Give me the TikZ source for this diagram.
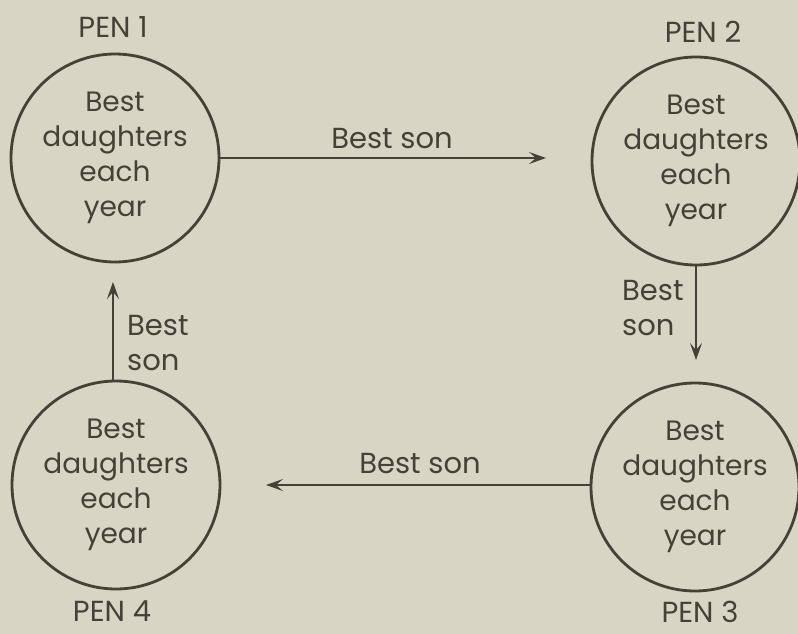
\documentclass[tikz,border=0pt]{standalone}
\usepackage{fontspec}
\setmainfont{Poppins}
\usetikzlibrary{arrows.meta}
\definecolor{paper}{RGB}{217,213,196}
\definecolor{ink}{RGB}{70,64,56}
\tikzset{
  pen/.style={circle, draw=ink, line width=2.8pt, minimum size=208pt, inner sep=0pt,
    align=center, text=ink, font=\fontsize{28}{35}\selectfont},
  penlabel/.style={text=ink, font=\fontsize{29}{34}\selectfont, inner sep=0pt, anchor=base},
  sonlabel/.style={text=ink, font=\fontsize{29}{35}\selectfont, inner sep=0pt},
  flow/.style={draw=ink, line width=2pt, -{Stealth[length=17pt,width=12pt,inset=7pt]}}
}
\begin{document}
\begin{tikzpicture}[x=1pt,y=-1pt]
  \fill[paper] (0,0) rectangle (798,634);
  \useasboundingbox (0,0) rectangle (798,634);

  % the four pens
  \node[pen] (p1) at (115,158) {Best\\daughters\\each\\year};
  \node[pen] (p2) at (696,161) {Best\\daughters\\each\\year};
  \node[pen] (p3) at (695,487) {Best\\daughters\\each\\year};
  \node[pen] (p4) at (116,485) {Best\\daughters\\each\\year};

  \node[penlabel] (l1) at (113,38) {PEN 1};
  \node[penlabel] (l2) at (703,43) {PEN 2};
  \node[penlabel] (l3) at (700,622) {PEN 3};
  \node[penlabel] (l4) at (112,621) {PEN 4};

  % free ends of the arrows
  \coordinate (e12) at (546,158);
  \coordinate (e23) at (696,360);
  \coordinate (e34) at (266,485);
  \coordinate (e41) at (113,282);

  \draw[flow] (p1.east |- e12) -- (e12);
  \draw[flow] (p2.south) -- (e23);
  \draw[flow] (p3.west |- e34) -- (e34);
  \draw[flow] (p4.north -| e41) -- (e41);

  % labels on the arrows (multi-line nodes sit on their last baseline)
  \node[sonlabel, anchor=base] (s12) at (392,148) {Best son};
  \node[sonlabel, anchor=base] (s34) at (420,473) {Best son};
  \node[sonlabel, anchor=base west, align=left] (s23) at (622,335) {Best\\son};
  \node[sonlabel, anchor=base west, align=left] (s41) at (127,370) {Best\\son};
\end{tikzpicture}
\end{document}
